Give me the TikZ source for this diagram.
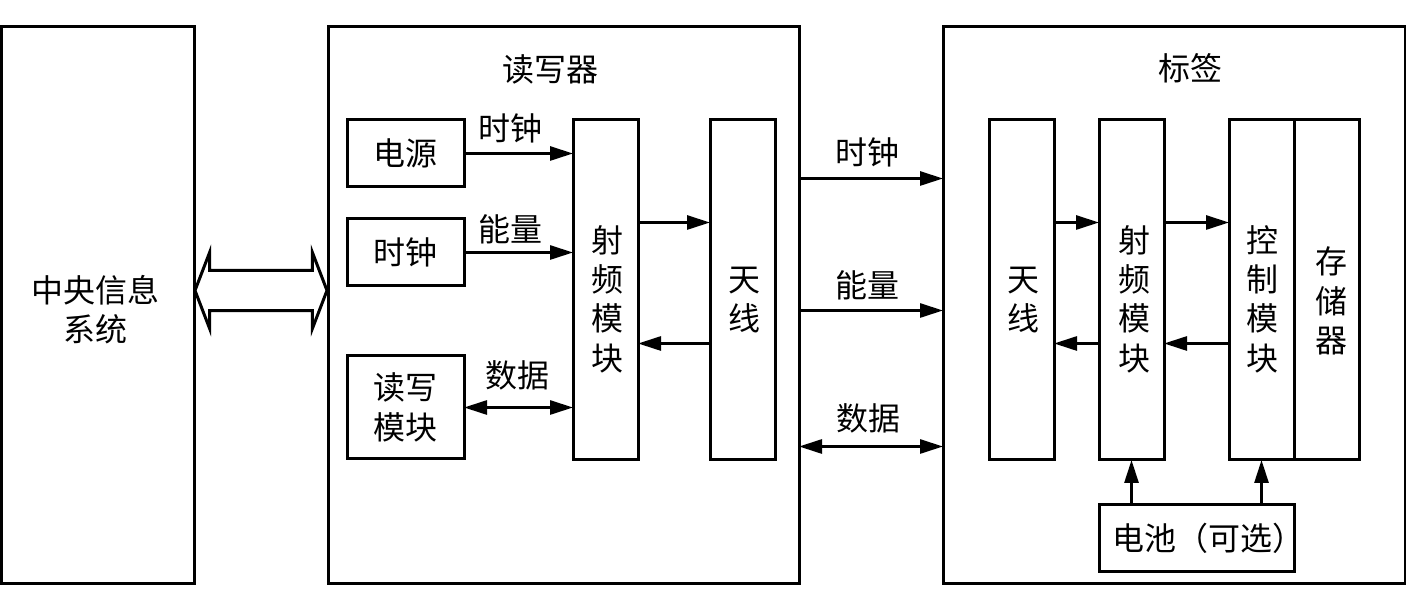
\documentclass[tikz,border=0pt]{standalone}
\usepackage{fontspec}
\setmainfont{Noto Sans CJK SC}
\usetikzlibrary{shapes, arrows.meta, positioning, calc}
\newcommand{\lowtxt}[1]{\rule{0pt}{#1}}
\newcommand{\sh}[1]{\hspace{#1}}
\tikzstyle{block} = [draw, line width=0.06cm, inner sep=0, outer sep=0, anchor=south west, align=center]
\tikzstyle{lab} = [inner sep=0]

\begin{document}
\begin{tikzpicture}[line width=0.055cm, >={Triangle[length=0.46cm,width=0.28cm]}, every node/.style={font=\fontsize{18.2}{22.4}\selectfont}]
		\useasboundingbox (0,0) rectangle (28.12,12.04);
		\coordinate (central) at (0.02,  0.36);
		\coordinate (reader)  at (6.56,  0.36);
		\coordinate (tag)     at (18.86, 0.36);
		\coordinate (power)   at (6.94,  8.30);
		\coordinate (clock)   at (6.94,  6.32);
		\coordinate (rwmod)   at (6.94,  2.86);
		\coordinate (rfa)     at (11.46, 2.84);
		\coordinate (anta)    at (14.20, 2.84);
		\coordinate (antb)    at (19.78, 2.84);
		\coordinate (rfb)     at (21.98, 2.84);
		\coordinate (ctrl)    at (24.58, 2.84);
		\coordinate (mem)     at (25.88, 2.84);
		\coordinate (batt)    at (21.98, 0.60);

		\node[block, minimum width=3.86cm, minimum height=11.14cm] (CEN) at (central) {\lowtxt{0.7cm}\sh{-0.08cm}中央信息\\\sh{-0.08cm}系统};
		\node[block, minimum width=9.42cm, minimum height=11.14cm] (REA) at (reader) {};
		\node[block, minimum width=9.24cm, minimum height=11.14cm] (TAG) at (tag) {};
		\node[lab] (REAT) at (11.0, 10.66) {读写器};
		\node[lab] (TAGT) at (23.8, 10.68) {标签};

		\node[block, minimum width=2.34cm, minimum height=1.34cm] (PWR) at (power) {电源};
		\node[block, minimum width=2.34cm, minimum height=1.34cm] (CLK) at (clock) {时钟};
		\node[block, minimum width=2.34cm, minimum height=2.06cm] (RWM) at (rwmod) {读写\\模块};
		\node[block, minimum width=1.30cm, minimum height=6.80cm] (RFA) at (rfa) {\lowtxt{0.9cm}\sh{0.08cm}射\\\sh{0.08cm}频\\\sh{0.08cm}模\\\sh{0.08cm}块};
		\node[block, minimum width=1.30cm, minimum height=6.80cm] (ANA) at (anta) {\lowtxt{0.88cm}\sh{0.08cm}天\\\sh{0.08cm}线};
		\node[block, minimum width=1.30cm, minimum height=6.80cm] (ANB) at (antb) {\lowtxt{0.88cm}\sh{0.08cm}天\\\sh{0.08cm}线};
		\node[block, minimum width=1.30cm, minimum height=6.80cm] (RFB) at (rfb) {\lowtxt{0.9cm}\sh{0.12cm}射\\\sh{0.12cm}频\\\sh{0.12cm}模\\\sh{0.12cm}块};
		\node[block, minimum width=1.30cm, minimum height=6.80cm] (CTL) at (ctrl) {\lowtxt{0.9cm}\sh{0.04cm}控\\\sh{0.04cm}制\\\sh{0.04cm}模\\\sh{0.04cm}块};
		\node[block, minimum width=1.30cm, minimum height=6.80cm] (MEM) at (mem) {\lowtxt{0.98cm}\sh{0.2cm}存\\\sh{0.2cm}储\\\sh{0.2cm}器};
		\node[block, minimum width=3.90cm, minimum height=1.34cm] (BAT) at (batt) {\sh{0.24cm}电池（可选）\sh{-0.24cm}};

		\node[draw, double arrow, line width=0.06cm, inner xsep=0, inner ysep=0.25cm, outer sep=0, minimum height=2.64cm, minimum width=1.52cm, double arrow tip angle=138] (BUS) at ($(CEN.east)!0.5!(REA.west)+(0,0.3)$) {};

		\draw[->] (PWR.east) -- node[lab, xshift=-0.16cm, yshift=0.5cm]{时钟} (PWR.east -| RFA.west);
		\draw[->] (CLK.east) -- node[lab, xshift=-0.16cm, yshift=0.46cm]{能量} (CLK.east -| RFA.west);
		\draw[<->] (RWM.east) -- node[lab, xshift=-0.02cm, yshift=0.64cm]{数据} (RWM.east -| RFA.west);
		\draw[->] ($(RFA.east)+(0, 1.35)$) -- ($(ANA.west)+(0, 1.35)$);
		\draw[->] ($(ANA.west)-(0, 1.07)$) -- ($(RFA.east)-(0, 1.07)$);

		\draw[->] ($(REA.east)+(0, 2.54)$) -- node[lab, xshift=-0.08cm, yshift=0.52cm]{时钟} ($(TAG.west)+(0, 2.54)$);
		\draw[->] ($(REA.east)-(0, 0.1)$) -- node[lab, xshift=-0.08cm, yshift=0.5cm]{能量} ($(TAG.west)-(0, 0.1)$);
		\draw[<->] ($(REA.east)-(0, 2.82)$) -- node[lab, xshift=-0.06cm, yshift=0.56cm]{数据} ($(TAG.west)-(0, 2.82)$);

		\draw[->] ($(ANB.east)+(0, 1.35)$) -- ($(RFB.west)+(0, 1.35)$);
		\draw[->] ($(RFB.west)-(0, 1.07)$) -- ($(ANB.east)-(0, 1.07)$);
		\draw[->] ($(RFB.east)+(0, 1.35)$) -- ($(CTL.west)+(0, 1.35)$);
		\draw[->] ($(CTL.west)-(0, 1.07)$) -- ($(RFB.east)-(0, 1.07)$);
		\draw[->] (BAT.north -| RFB) -- (RFB.south);
		\draw[->] (BAT.north -| CTL) -- (CTL.south);
\end{tikzpicture}
\end{document}
